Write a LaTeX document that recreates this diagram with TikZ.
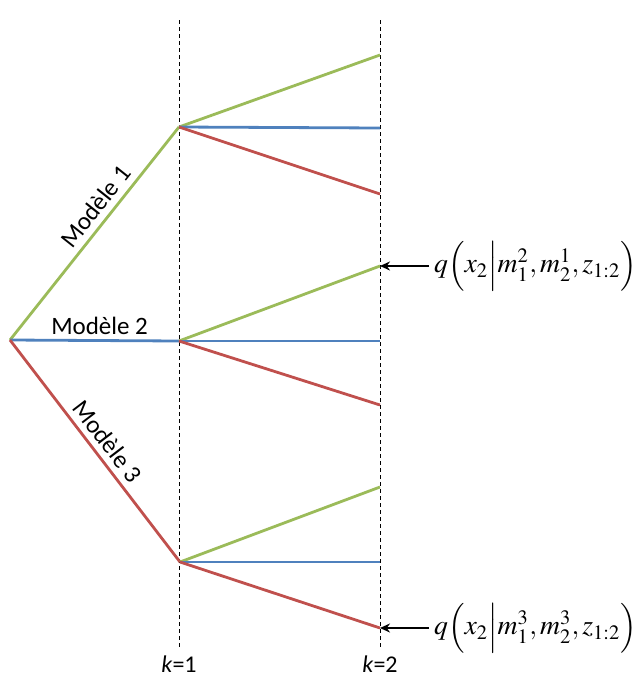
\documentclass[tikz,border=0pt]{standalone}
\usepackage{mathptmx}
\usepackage[no-math]{fontspec}
\setmainfont{Carlito}
\usetikzlibrary{arrows.meta}
\definecolor{mgreen}{HTML}{9BBB59}
\definecolor{mblue}{HTML}{4F81BD}
\definecolor{mred}{HTML}{C0504D}
\begin{document}
\begin{tikzpicture}[x=1pt,y=-1pt,
  branch/.style={line width=2.8pt},
  gbr/.style={branch,mgreen},
  bbr/.style={branch,mblue},
  rbr/.style={branch,mred},
  guide/.style={black,line width=0.9pt,dash pattern=on 4pt off 3pt},
  lbl/.style={text=black,font=\fontsize{25}{28}\selectfont,inner sep=6pt},
  klbl/.style={text=black,font=\fontsize{24}{28}\selectfont,inner sep=0pt},
  fml/.style={anchor=west,inner sep=0pt},
  pointer/.style={black,line width=1.6pt,-{Stealth[length=10pt,width=9pt]}}]
\useasboundingbox (0,0) rectangle (639,686);
% guides
\coordinate (g1t) at (179,20);
\coordinate (g1b) at (179,648);
\coordinate (g2t) at (380,20);
\coordinate (g2b) at (380,648);
\draw[guide] (g1t) -- (g1b);
\draw[guide] (g2t) -- (g2b);
% points
\coordinate (r) at (10,340);
\coordinate (a1) at (179,127);
\coordinate (a2) at (179,341);
\coordinate (a3) at (180,562);
\coordinate (e1g) at (380,55);
\coordinate (e1b) at (380,128);
\coordinate (e1r) at (380,194);
\coordinate (e2g) at (380,266);
\coordinate (e2b) at (380,341);
\coordinate (e2r) at (380,405);
\coordinate (e3g) at (380,487);
\coordinate (e3b) at (380,562);
\coordinate (e3r) at (380,628);
% first level
\draw[gbr] (r) -- node[lbl,sloped,above,pos=0.58] {Modèle 1} (a1);
\draw[bbr] (r) -- node[lbl,above,pos=0.53,inner sep=4pt] {Modèle 2} (a2);
\draw[rbr] (r) -- node[lbl,sloped,above,pos=0.5] {Modèle 3} (a3);
% second level
\draw[gbr] (a1) -- (e1g);
\draw[bbr] (a1) -- (e1b);
\draw[rbr] (a1) -- (e1r);
\draw[gbr] (a2) -- (e2g);
\draw[bbr] (a2) -- (e2b);
\draw[rbr] (a2) -- (e2r);
\draw[gbr] (a3) -- (e3g);
\draw[bbr] (a3) -- (e3b);
\draw[rbr] (a3) -- (e3r);
% formulas
\node[fml] (f1) at (434,266) {\resizebox{203pt}{!}{$q\Bigl(x_2\Big|m_1^2,m_2^1,z_{1:2}\Bigr)$}};
\node[fml] (f2) at (434,628) {\resizebox{203pt}{!}{$q\Bigl(x_2\Big|m_1^3,m_2^3,z_{1:2}\Bigr)$}};
\draw[pointer] ([xshift=-5pt]f1.west) -- (e2g);
\draw[pointer] ([xshift=-5pt]f2.west) -- (e3r);
% k labels
\node[klbl] (k1) at (179,664) {\textit{k}=1};
\node[klbl] (k2) at (380,664) {\textit{k}=2};
\end{tikzpicture}
\end{document}
